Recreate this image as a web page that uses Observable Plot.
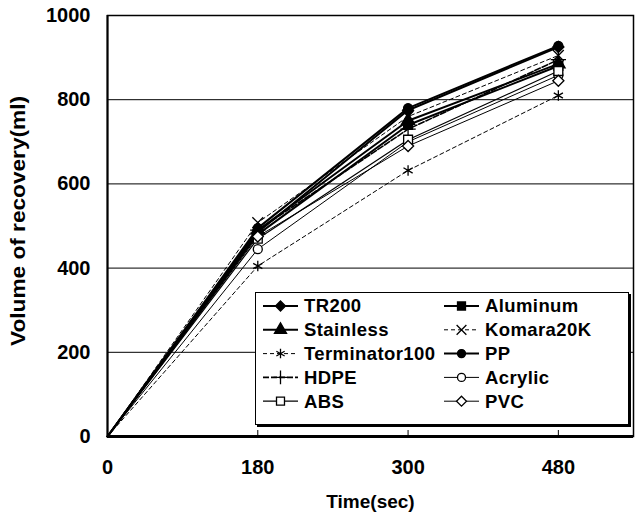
<!DOCTYPE html>
<html><head><meta charset="utf-8">
<script src="https://cdn.jsdelivr.net/npm/d3@7"></script>
<script src="https://cdn.jsdelivr.net/npm/@observablehq/plot@0.6"></script>
<style>
body{margin:0;background:#fff;font-family:"Liberation Sans",Arial,sans-serif;}
#wrap{position:relative;width:635px;height:515px;}
#legend{position:absolute;left:255px;top:292px;width:372px;height:131px;background:#fff;border:1.5px solid #000;box-shadow:2px 2px 0 #000;}
</style>
</head><body><div id="wrap"></div>
<script>
// categories (time in seconds)
const times = ["0", "180", "300", "480"];
const yTicks = [0, 200, 400, 600, 800, 1000];
const seriesNames = ["TR200","Aluminum","Stainless","Komara20K","Terminator100","PP","HDPE","Acrylic","ABS","PVC"];
// volume of recovery (ml)
const TR200         = [0, 485, 775, 925];
const Aluminum      = [0, 480, 740, 880];
const Stainless     = [0, 490, 750, 885];
const Komara20K     = [0, 508, 760, 905];
const Terminator100 = [0, 405, 632, 810];
const PP            = [0, 495, 780, 928];
const HDPE          = [0, 490, 730, 895];
const Acrylic       = [0, 445, 700, 858];
const ABS           = [0, 470, 705, 868];
const PVC           = [0, 475, 690, 845];
const values = {TR200, Aluminum, Stainless, Komara20K, Terminator100, PP, HDPE, Acrylic, ABS, PVC};

const style = {
  TR200:        {symbol:"diamond2",fill:"black", w:2,   dash:null},
  Aluminum:     {symbol:"square",  fill:"black", w:2,   dash:null},
  Stainless:    {symbol:"triangle",fill:"black", w:2,   dash:null},
  Komara20K:    {symbol:"times",   fill:"none",  w:1,   dash:"4,3"},
  Terminator100:{symbol:"asterisk",fill:"none",  w:1,   dash:"4,3"},
  PP:           {symbol:"circle",  fill:"black", w:2,   dash:null},
  HDPE:         {symbol:"plus",    fill:"none",  w:1.6, dash:"6,2"},
  Acrylic:      {symbol:"circle",  fill:"white", w:1,   dash:null},
  ABS:          {symbol:"square",  fill:"white", w:1.2, dash:null},
  PVC:          {symbol:"diamond2",fill:"white", w:1,   dash:null}
};

const rows = seriesNames.flatMap(s => values[s].map((v, i) => ({series: s, i, v})));

const marks = [
  Plot.gridY(yTicks.filter(d => d > 0 && d < 1000), {stroke: "black", strokeOpacity: 1, strokeWidth: 1}),
  Plot.frame({stroke: "black", strokeWidth: 1.5}),
  Plot.ruleX([0], {stroke: "black", strokeWidth: 2}),
  Plot.ruleY([0], {stroke: "black", strokeWidth: 3}),
  Plot.axisY({ticks: yTicks, tickSize: 0, tickPadding: 17, tickFormat: d => String(d), fontSize: 20, fontWeight: "bold", label: null}),
  Plot.axisX({ticks: [1, 2, 3], tickSize: -6, text: null, label: null}),
  Plot.axisX({ticks: [0, 1, 2, 3], tickSize: 0, tickPadding: 23, tickFormat: i => times[i], fontSize: 20, fontWeight: "bold", label: null}),
  Plot.text(["Time(sec)"], {frameAnchor: "bottom", dy: 65, fontSize: 19, fontWeight: "bold", lineAnchor: "middle", textAnchor: "middle"}),
  Plot.text(["Volume of recovery(ml)"], {frameAnchor: "left", dx: -89, dy: -5, rotate: -90, fontSize: 20, fontWeight: "bold", lineAnchor: "middle", textAnchor: "middle", className: "ytitle"})
];
for (const s of seriesNames) {
  const st = style[s];
  marks.push(Plot.line(rows.filter(d => d.series === s), {x: "i", y: "v", stroke: "black", strokeWidth: st.w, strokeDasharray: st.dash}));
}
for (const s of seriesNames) {
  const st = style[s];
  marks.push(Plot.dot(rows.filter(d => d.series === s && d.i > 0), {x: "i", y: "v", symbol: () => st.symbol, r: st.symbol === "circle" ? 4.5 : 5, fill: st.fill, stroke: "black", strokeWidth: 1.3}));
}

const chart = Plot.plot({
  width: 635, height: 515,
  marginLeft: 107, marginRight: 2, marginTop: 15, marginBottom: 79,
  style: {fontFamily: "'Liberation Sans', Arial, sans-serif", color: "black", background: "white"},
  x: {type: "linear", domain: [0, 3.5]},
  y: {domain: [0, 1000]},
  marks
});
const wrap = document.getElementById("wrap");
wrap.appendChild(chart);
// stretch the rotated title along its length like the original
d3.select(chart).selectAll(".ytitle text").attr("textLength", 250).attr("lengthAdjust", "spacingAndGlyphs");

// legend (inside plot area, like the original)
const leg = document.createElement("div");
leg.id = "legend";
wrap.appendChild(leg);
const symMap = {diamond2: d3.symbolDiamond2, square: d3.symbolSquare, triangle: d3.symbolTriangle, times: d3.symbolTimes, asterisk: d3.symbolAsterisk, circle: d3.symbolCircle, plus: d3.symbolPlus};
const lsvg = d3.select(leg).append("svg").attr("width", 372).attr("height", 131).style("position", "absolute").style("left", 0).style("top", 0);
seriesNames.forEach((s, k) => {
  const col = k % 2, row = Math.floor(k / 2);
  const st = style[s];
  const x0 = col === 0 ? 7 : 188, y0 = 13 + row * 23.8;
  const g = lsvg.append("g").attr("transform", `translate(${x0},${y0})`);
  g.append("line").attr("x1", 0).attr("x2", 35).attr("stroke", "black").attr("stroke-width", st.w).attr("stroke-dasharray", st.dash);
  const r = st.symbol === "circle" ? 4 : 4.5;
  g.append("path").attr("transform", "translate(17.5,0)").attr("d", d3.symbol(symMap[st.symbol], Math.PI * r * r)())
    .attr("fill", st.fill).attr("stroke", "black").attr("stroke-width", 1.3);
  g.append("text").attr("x", 41).attr("dy", "0.35em").attr("font-size", 18.5).attr("font-weight", "bold").attr("letter-spacing", "0.4px").text(s);
});
</script>
</body></html>
